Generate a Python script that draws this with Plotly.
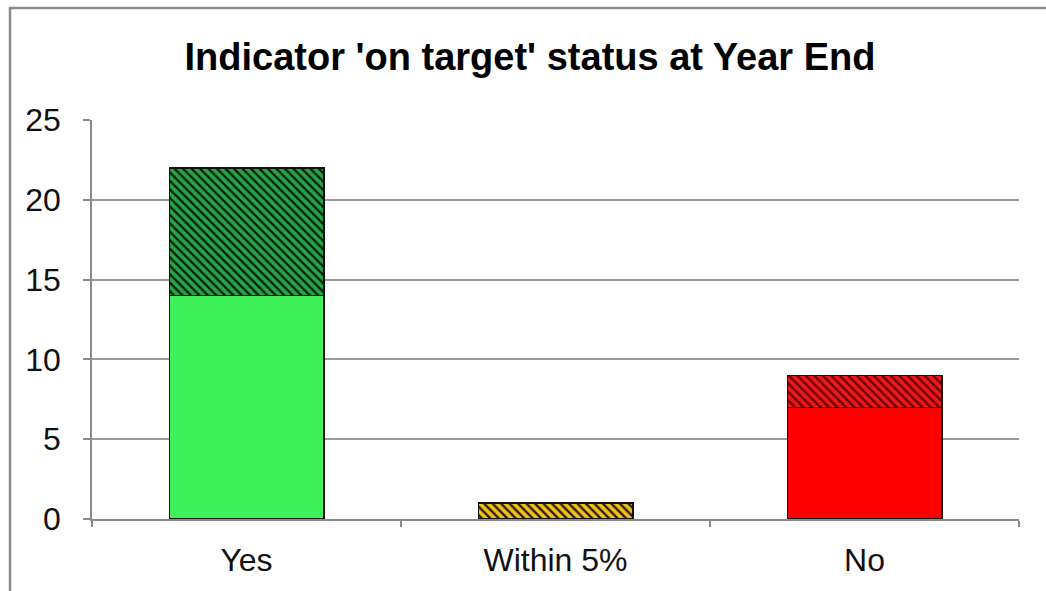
import plotly.graph_objects as go

categories = ["Yes", "Within 5%", "No"]
solid_values = [14, None, 7]
hatched_values = [8, 1, 2]
y_ticks = [0, 5, 10, 15, 20, 25]

solid_colors = ["#40F25A", "#F2C21C", "#FF0000"]
hatched_bg = ["#26A648", "#F2C21C", "#EE1818"]
hatched_fg = ["#06200C", "#2A1E04", "#6A0000"]

fig = go.Figure()
fig.add_trace(go.Bar(
    x=categories, y=solid_values,
    marker=dict(color=solid_colors, line=dict(color="#111111", width=1.5)),
    hoverinfo="x+y", showlegend=False,
))
for i, cat in enumerate(categories):
    fig.add_trace(go.Bar(
        x=[cat], y=[hatched_values[i]],
        marker=dict(
            color=hatched_bg[i],
            line=dict(color="#111111", width=1.5),
            pattern=dict(shape="\\", fgcolor=hatched_fg[i], bgcolor=hatched_bg[i],
                         size=6, solidity=0.4, fillmode="replace"),
        ),
        hoverinfo="x+y", showlegend=False,
    ))

L, R, T, B = 92, 27, 120, 72
W, H = 1046, 591
pw, ph = W - L - R, H - T - B

fig.update_layout(
    width=W, height=H,
    barmode="stack", bargap=0.5,
    paper_bgcolor="white", plot_bgcolor="white",
    margin=dict(l=L, r=R, t=T, b=B),
    font=dict(family="Liberation Sans, Arial, sans-serif", color="#000000"),
    title=dict(
        text="<b>Indicator 'on target' status at Year End</b>",
        x=530 / W, xref="container", xanchor="center",
        y=1 - 57 / H, yref="container", yanchor="middle",
        font=dict(size=38, color="#000000"),
    ),
    xaxis=dict(
        type="category", tickson="boundaries", categoryorder="array",
        categoryarray=categories,
        ticks="outside", ticklen=6, tickcolor="#8a8a8a", tickwidth=1.5,
        showline=True, linecolor="#8a8a8a", linewidth=1.5,
        showgrid=False, tickfont=dict(size=32, color="#111111"),
        ticklabelstandoff=12,
    ),
    yaxis=dict(
        range=[0, 25], tickvals=y_ticks,
        ticks="outside", ticklen=7, tickcolor="#8a8a8a", tickwidth=1.5,
        showline=True, linecolor="#8a8a8a", linewidth=1.5,
        showgrid=True, gridcolor="#9a9a9a", gridwidth=1.5,
        zeroline=False, tickfont=dict(size=32, color="#111111"),
        ticklabelstandoff=16,
    ),
    shapes=[dict(
        type="rect", xref="paper", yref="paper",
        x0=(10 - L) / pw, x1=(1060 - L) / pw,
        y0=-(620 - (H - B)) / ph, y1=1 + (T - 8) / ph,
        line=dict(color="#8c8c8c", width=2.5), fillcolor="rgba(0,0,0,0)",
        layer="below",
    )],
)

fig.write_html("out.html")
